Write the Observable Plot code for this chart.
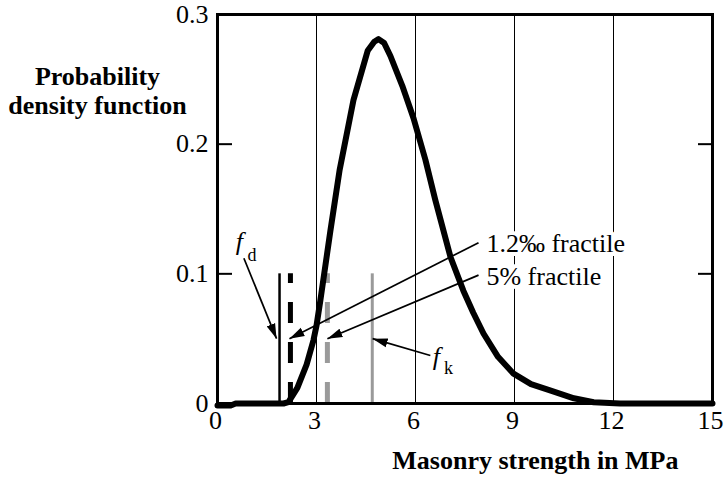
<!DOCTYPE html>
<html><head><meta charset="utf-8">
<script src="https://cdn.jsdelivr.net/npm/d3@7"></script>
<script src="https://cdn.jsdelivr.net/npm/@observablehq/plot@0.6"></script>
<style>
body{margin:0;background:#fff}
#chart svg text, #chart svg tspan { font-family: "Liberation Serif", "Tinos", "Times New Roman", Times, "DejaVu Serif", serif !important; }
</style>
</head><body><div id="chart"></div>
<script>
// Probability density curve (masonry strength in MPa vs density)
const strength = [0, 0.4, 0.55, 2.0, 2.15, 2.42, 2.7, 2.91, 3.0, 3.12, 3.42, 3.7, 4.12, 4.55, 4.75, 4.88, 5.05, 5.24, 5.6, 5.94, 6.3, 6.6, 7.06, 7.45, 7.75, 8.06, 8.5, 8.97, 9.5, 10.1, 10.8, 11.4, 12.2, 15];
const density  = [-0.0015, -0.0015, 0, 0, 0.001, 0.012, 0.03, 0.049, 0.06, 0.08, 0.133, 0.18, 0.234, 0.272, 0.279, 0.281, 0.278, 0.268, 0.245, 0.22, 0.188, 0.157, 0.113, 0.087, 0.07, 0.054, 0.036, 0.023, 0.015, 0.01, 0.004, 0.001, 0, 0];

const xTicks = [0, 3, 6, 9, 12, 15];
const xTickLabels = ["0", "3", "6", "9", "12", "15"];
const yTicks = [0, 0.1, 0.2, 0.3];
const yTickLabels = ["0", "0.1", "0.2", "0.3"];
const innerTicks = [0.1, 0.2];
const gridX = [3, 6, 9, 12];

// vertical markers: f_d, 1.2‰ fractile, 5% fractile, f_k
const markerX = [1.88, 2.21, 3.33, 4.69];
const markerTop = [0.1, 0.1, 0.1, 0.1];

// annotation arrows
const arrowFromX = [0.80, 7.91, 7.91, 6.45];
const arrowFromY = [0.112, 0.124, 0.099, 0.037];
const arrowToX = [1.79, 2.18, 3.33, 4.70];
const arrowToY = [0.05, 0.05, 0.05, 0.05];

const fractileLabels = ["1.2‰ fractile", "5% fractile"];
const fractileX = [8.15, 8.15];
const fractileY = [0.123, 0.098];

const symbolMain = ["f", "f"];
const symbolSub = ["d", "k"];
const symbolX = [0.55, 6.52];
const symbolY = [0.118, 0.030];
const subX = [0.91, 6.86];
const subY = [0.110, 0.023];

const yLabel = "Probability\ndensity function";
const xLabel = "Masonry strength in MPa";

const serif = "Liberation Serif, Tinos, Times New Roman, DejaVu Serif, serif";

const curve = strength.map((x, i) => ({x, y: density[i]}));
const arrows = arrowFromX.map((x, i) => ({x1: x, y1: arrowFromY[i], x2: arrowToX[i], y2: arrowToY[i]}));
const rule = i => [{x: markerX[i], top: markerTop[i]}];

const chart = Plot.plot({
  width: 724,
  height: 478,
  marginTop: 14,
  marginBottom: 75,
  marginLeft: 217,
  marginRight: 12,
  style: {fontFamily: serif, fontSize: "26px", background: "white", color: "black"},
  x: {domain: [0, 15]},
  y: {domain: [0, 0.3]},
  marks: [
    Plot.ruleX(gridX, {stroke: "black", strokeWidth: 1}),
    Plot.axisX(xTicks, {tickSize: 0, tickPadding: 7, dx: -2, tickFormat: (d, i) => xTickLabels[i], label: null, fontSize: 26, fontFamily: serif}),
    Plot.axisY(yTicks, {tickSize: 0, tickPadding: 9, tickFormat: (d, i) => yTickLabels[i], label: null, fontSize: 26, fontFamily: serif}),
    Plot.axisY(innerTicks, {anchor: "left", tickSize: -15, strokeWidth: 2, text: null, label: null}),
    Plot.axisY(innerTicks, {anchor: "right", tickSize: -15, strokeWidth: 2, text: null, label: null}),
    Plot.ruleX(rule(0), {x: "x", y1: 0, y2: "top", stroke: "black", strokeWidth: 2.5}),
    Plot.ruleX(rule(1), {x: "x", y1: 0, y2: "top", stroke: "black", strokeWidth: 5, strokeDasharray: "21,19"}),
    Plot.ruleX(rule(2), {x: "x", y1: 0, y2: "top", stroke: "#9a9a9a", strokeWidth: 5, strokeDasharray: "21,19"}),
    Plot.ruleX(rule(3), {x: "x", y1: 0, y2: "top", stroke: "#9a9a9a", strokeWidth: 3}),
    Plot.line(curve, {x: "x", y: "y", stroke: "black", strokeWidth: 6, strokeLinejoin: "round", strokeLinecap: "round"}),
    Plot.frame({stroke: "black", strokeWidth: 3}),
    Plot.link(arrows, {x1: "x1", y1: "y1", x2: "x2", y2: "y2", stroke: "black", strokeWidth: 1.7, markerEnd: "arrow"}),
    Plot.text(fractileLabels, {x: (d, i) => fractileX[i], y: (d, i) => fractileY[i], text: d => d, textAnchor: "start", lineAnchor: "middle", fontSize: 26, fontFamily: serif, fill: "black", stroke: "white", strokeWidth: 8}),
    Plot.text(symbolMain, {x: (d, i) => symbolX[i], y: (d, i) => symbolY[i], text: d => d, textAnchor: "start", lineAnchor: "bottom", fontSize: 26, fontFamily: serif, fontStyle: "italic", fill: "black"}),
    Plot.text(symbolSub, {x: (d, i) => subX[i], y: (d, i) => subY[i], text: d => d, textAnchor: "start", lineAnchor: "bottom", fontSize: 18, fontFamily: serif, fill: "black"}),
    Plot.text([yLabel], {frameAnchor: "top-left", dx: -120, dy: 76, text: d => d, textAnchor: "middle", lineAnchor: "middle", lineHeight: 1.1, fontSize: 26, fontFamily: serif, fontWeight: "bold", fill: "black"}),
    Plot.text([xLabel], {frameAnchor: "bottom-right", dx: -34, dy: 57, text: d => d, textAnchor: "end", lineAnchor: "middle", fontSize: 26, fontFamily: serif, fontWeight: "bold", fill: "black"})
  ]
});

// make arrowheads filled triangles
chart.querySelectorAll("marker").forEach(m => {
  m.setAttribute("viewBox", "-15 -5 15 10");
  m.setAttribute("markerUnits", "userSpaceOnUse");
  m.setAttribute("markerWidth", "15");
  m.setAttribute("markerHeight", "10");
  m.setAttribute("orient", "auto");
  while (m.firstChild) m.removeChild(m.firstChild);
  const p = document.createElementNS("http://www.w3.org/2000/svg", "path");
  p.setAttribute("d", "M-15,-4.5L0,0L-15,4.5Z");
  p.setAttribute("fill", "black");
  p.setAttribute("stroke", "none");
  m.appendChild(p);
});

document.getElementById("chart").appendChild(chart);
</script>
</body></html>
